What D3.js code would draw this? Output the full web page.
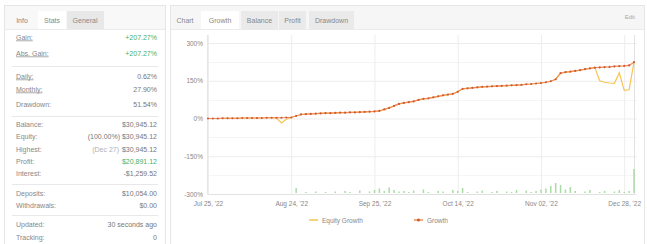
<!DOCTYPE html>
<html>
<head>
<meta charset="utf-8">
<script src="https://cdn.jsdelivr.net/npm/d3@7"></script>
<style>
  body { margin: 0; background: #fff; }
  svg { font-family: "Liberation Sans", Arial, sans-serif; }
</style>
</head>
<body>
<div id="chart"></div>
<script>
// stats panel rows
const statLabels = ["Gain:", "Abs. Gain:", "Daily:", "Monthly:", "Drawdown:", "Balance:", "Equity:", "Highest:", "Profit:", "Interest:", "Deposits:", "Withdrawals:", "Updated:", "Tracking:"];
const statValues = ["+207.27%", "+207.27%", "0.62%", "27.90%", "51.54%", "$30,945.12", "(100.00%) $30,945.12", "$30,945.12", "$20,891.12", "-$1,259.52", "$10,054.00", "$0.00", "30 seconds ago", "0"];
const statRowY = [37, 53, 76, 89, 104, 124, 136, 149, 161, 173, 193, 205, 224, 237];

// growth chart data, one entry per day point
const growth = [
  0, 0, 0, 1, 1, 1, 1, 2, 2, 2,
  2, 2, 3, 3, 3, 3, 4, 4, 10, 16,
  17, 18, 19, 20, 21, 21, 22, 23, 23, 24,
  24, 25, 26, 27, 28, 30, 36, 42, 50, 58,
  62, 65, 68, 74, 78, 80, 84, 88, 92, 95,
  98, 106, 118, 120, 122, 124, 126, 127, 128, 129,
  130, 131, 132, 133, 134, 136, 137, 139, 141, 144,
  148, 156, 180, 184, 186, 189, 192, 196, 199, 202,
  203, 204, 205, 207, 208, 209, 211, 224
];
const equityGrowth = [
  0, 0, 0, 1, 1, 1, 1, 2, 2, 2,
  2, 2, 3, 3, 1, -18, -3, 4, 10, 16,
  17, 18, 19, 20, 21, 21, 22, 23, 23, 24,
  24, 25, 26, 27, 28, 30, 36, 42, 50, 58,
  62, 65, 68, 74, 78, 80, 84, 88, 92, 95,
  98, 106, 118, 120, 122, 124, 126, 127, 128, 129,
  130, 131, 132, 133, 134, 136, 137, 139, 141, 144,
  148, 156, 180, 184, 186, 189, 192, 196, 199, 202,
  150, 144, 141, 140, 182, 112, 114, 224
];
const dailyProfit = [
  0, 0, 0, 0, 0, 0, 0, 0, 0, 0,
  0, 0, 0, 0, 0, 0, 0, 0, 500, 0,
  100, 0, 150, 0, 100, 0, 150, 0, 200, 100,
  0, 250, 0, 150, 300, 450, 200, 550, 300, 150,
  200, 100, 250, 0, 350, 100, 0, 200, 150, 0,
  300, 200, 500, 100, 0, 150, 250, 0, 100, 200,
  0, 150, 100, 300, 0, 250, 100, 200, 350, 450,
  700, 1000, 800, 350, 600, 200, 0, 150, 300, 0,
  100, 200, 0, 150, 300, 100, 200, 2400
];
const tickIndex = [0, 17, 34, 51, 68, 85];
const tickLabels = ["Jul 25, '22", "Aug 24, '22", "Sep 25, '22", "Oct 14, '22", "Nov 02, '22", "Dec 28, '22"];
const yTicks = [-300, -150, 0, 150, 300];

const W = 647, H = 244;
const svg = d3.select("#chart").append("svg").attr("width", W).attr("height", H);

// ---------- left stats panel ----------
svg.append("rect").attr("x", 4.5).attr("y", 5.5).attr("width", 161).attr("height", 245)
   .attr("fill", "#fff").attr("stroke", "#e6e6e6");
svg.append("rect").attr("x", 5).attr("y", 6).attr("width", 160).attr("height", 23).attr("fill", "#f8f8f8");
svg.append("rect").attr("x", 38).attr("y", 11).attr("width", 28).attr("height", 18).attr("fill", "#fff");
svg.append("rect").attr("x", 67).attr("y", 11).attr("width", 37).attr("height", 18).attr("fill", "#e8e8e8");
svg.append("line").attr("x1", 5).attr("x2", 165).attr("y1", 29.5).attr("y2", 29.5).attr("stroke", "#ebebeb");
[["Info", 22], ["Stats", 52], ["General", 85]].forEach(([t, x]) => {
  svg.append("text").attr("x", x).attr("y", 23).attr("text-anchor", "middle")
     .attr("font-size", 7).attr("fill", "#888").text(t);
});

[66, 116, 184, 215].forEach(y => {
  svg.append("line").attr("x1", 12).attr("x2", 158).attr("y1", y + 0.5).attr("y2", y + 0.5)
     .attr("stroke", "#e8e8e8");
});

const rows = svg.append("g").attr("font-size", 7);
statLabels.forEach((lab, i) => {
  const y = statRowY[i] + 2.5;
  const t = rows.append("text").attr("x", 16).attr("y", y).attr("fill", "#888").text(lab);
  if (i < 4) t.attr("text-decoration", "underline");
  const green = (i === 0 || i === 1 || i === 8);
  rows.append("text").attr("x", 157).attr("y", y).attr("text-anchor", "end")
      .attr("fill", green ? "#45b068" : "#777").text(statValues[i]);
});
// lighter date prefix on the Highest row
rows.append("text").attr("x", 119).attr("y", statRowY[7] + 2.5).attr("text-anchor", "end")
    .attr("fill", "#b0b0b0").text("(Dec 27)");

// ---------- right chart panel ----------
svg.append("rect").attr("x", 170.5).attr("y", 5.5).attr("width", 474).attr("height", 245)
   .attr("fill", "#fff").attr("stroke", "#e6e6e6");
svg.append("rect").attr("x", 171).attr("y", 6).attr("width", 473).attr("height", 23).attr("fill", "#f6f6f6");
svg.append("rect").attr("x", 201).attr("y", 11).attr("width", 38).attr("height", 18).attr("fill", "#fff");
[[241, 37], [279, 27], [309, 45]].forEach(([x, w]) => {
  svg.append("rect").attr("x", x).attr("y", 11).attr("width", w).attr("height", 18).attr("fill", "#eaeaea");
});
svg.append("line").attr("x1", 171).attr("x2", 644).attr("y1", 29.5).attr("y2", 29.5).attr("stroke", "#ebebeb");
[["Chart", 185], ["Growth", 220], ["Balance", 259.5], ["Profit", 292.5], ["Drawdown", 331.5]].forEach(([t, x]) => {
  svg.append("text").attr("x", x).attr("y", 23).attr("text-anchor", "middle")
     .attr("font-size", 7).attr("fill", "#888").text(t);
});
svg.append("text").attr("x", 635).attr("y", 19).attr("text-anchor", "end")
   .attr("font-size", 6).attr("fill", "#aaa").text("Edit");

const idx = d3.range(growth.length);
const x = d3.scalePoint().domain(idx).range([208, 634]);
const y = d3.scaleLinear().domain([-300, 300]).range([194, 43]);
const yBar = d3.scaleLinear().domain([0, 2500]).range([193, 168]);

// minor horizontal grid
const minor = d3.range(-225, 300, 150);
svg.append("g").selectAll("line").data(minor).join("line")
   .attr("x1", 207).attr("x2", 637)
   .attr("y1", d => Math.round(y(d)) + 0.5).attr("y2", d => Math.round(y(d)) + 0.5)
   .attr("stroke", "#f5f5f5");

// y axis
const yAxis = svg.append("g").attr("transform", "translate(207,0)")
  .call(d3.axisLeft(y).tickValues(yTicks).tickSize(-430).tickFormat(d => d + "%"));
yAxis.select(".domain").remove();
yAxis.selectAll(".tick line").attr("stroke", "#ededed");
yAxis.selectAll(".tick text").attr("x", -4).attr("font-size", 6.5).attr("fill", "#888")
     .attr("font-family", "Liberation Sans, Arial, sans-serif");

// x axis
const xAxis = svg.append("g").attr("transform", "translate(0,194)")
  .call(d3.axisBottom(x).tickValues(tickIndex).tickSize(-159)
          .tickFormat(d => tickLabels[tickIndex.indexOf(d)]));
xAxis.select(".domain").attr("stroke", "#e2e2e2");
xAxis.selectAll(".tick line").attr("stroke", "#ededed");
xAxis.selectAll(".tick text").attr("y", 7).attr("font-size", 6.5).attr("fill", "#888")
     .attr("font-family", "Liberation Sans, Arial, sans-serif");
svg.append("line").attr("x1", 207.5).attr("x2", 207.5).attr("y1", 35).attr("y2", 194)
   .attr("stroke", "#e6e6e6");

// profit bars
svg.append("g").selectAll("rect").data(idx.filter(i => dailyProfit[i] > 0)).join("rect")
   .attr("x", i => x(i) - 0.75).attr("width", 1.5)
   .attr("y", i => yBar(dailyProfit[i]))
   .attr("height", i => yBar(0) - yBar(dailyProfit[i]))
   .attr("fill", "#a9dca4");

// lines
const line = arr => d3.line().x(i => x(i)).y(i => y(arr[i]))(idx);
svg.append("path").attr("d", line(equityGrowth)).attr("fill", "none")
   .attr("stroke", "#f5c64e").attr("stroke-width", 1.2);
svg.append("path").attr("d", line(growth)).attr("fill", "none")
   .attr("stroke", "#f09050").attr("stroke-width", 1.2);
svg.append("g").selectAll("circle").data(idx).join("circle")
   .attr("cx", i => x(i)).attr("cy", i => y(growth[i])).attr("r", 1.1)
   .attr("fill", "#d0583e");

// legend
const lg = svg.append("g").attr("font-size", 6.5).attr("fill", "#888");
lg.append("line").attr("x1", 309).attr("x2", 318).attr("y1", 220).attr("y2", 220)
  .attr("stroke", "#f5c64e").attr("stroke-width", 1.5);
lg.append("text").attr("x", 322).attr("y", 222.5).text("Equity Growth");
lg.append("line").attr("x1", 414).attr("x2", 423).attr("y1", 220).attr("y2", 220)
  .attr("stroke", "#f09050").attr("stroke-width", 1.5);
lg.append("circle").attr("cx", 418.5).attr("cy", 220).attr("r", 1.5).attr("fill", "#d0583e");
lg.append("text").attr("x", 427).attr("y", 222.5).text("Growth");
</script>
</body>
</html>
